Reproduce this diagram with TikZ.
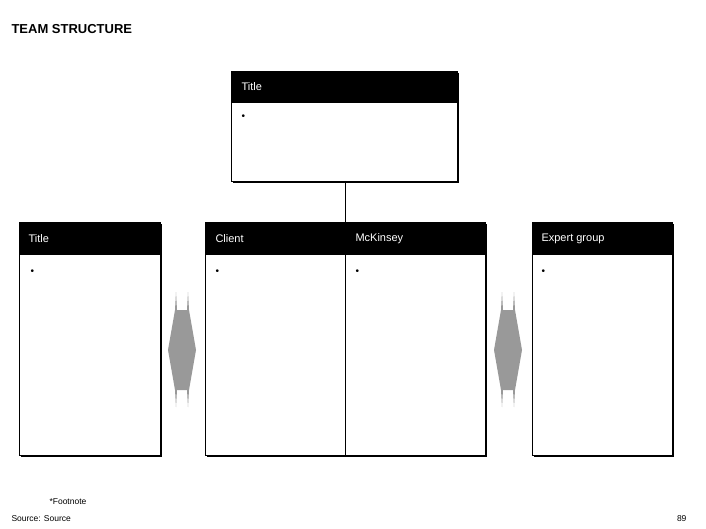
\documentclass[tikz,border=0pt]{standalone}
\usepackage{fontspec}
\setmainfont{Liberation Sans}
\begin{document}
\begin{tikzpicture}[x=1pt,y=-1pt,
  boxbody/.style={draw=black,fill=white,line width=0.6pt},
  hdr/.style={fill=black},
  hdrtext/.style={text=white,anchor=west,font=\fontsize{11}{13}\selectfont},
  bul/.style={anchor=west,font=\fontsize{10}{12}\selectfont},
  arr/.style={fill=gray!85,draw=none}]
\useasboundingbox[fill=white] (0,0) rectangle (706,529);
\node[anchor=west,font=\bfseries\fontsize{13}{15}\selectfont] (title) at (8,29) {TEAM STRUCTURE};
% shadows
\foreach \a/\b/\c/\d in {231/71/457/181, 19/222/160/455, 205/222/485/455, 532/222/672/455}
  \fill[black] (\a+2,\b+2) rectangle (\c+2,\d+2);
% top box
\draw[boxbody] (231,71) rectangle (457,181);
\fill[hdr] (231,71) rectangle (457,103);
\node[hdrtext] (t1) at (238,87) {Title};
\node[bul] (b1) at (238,117) {•};
% left
\draw[boxbody] (19,222) rectangle (160,455);
\fill[hdr] (19,222) rectangle (160,255);
\node[hdrtext] (t2) at (25,239) {Title};
\node[bul] (b2) at (27,272) {•};
% client/mckinsey
\draw[boxbody] (205,222) rectangle (485,455);
\fill[hdr] (205,222) rectangle (485,255);
\draw[line width=0.6pt] (345,255) -- (345,455);
\node[hdrtext] (t3) at (212,239) {Client};
\node[bul] (b3) at (212,272) {•};
\node[hdrtext] (t4) at (352,239) {McKinsey};
\node[bul] (b4) at (352,272) {•};
% expert
\draw[boxbody] (532,222) rectangle (672,455);
\fill[hdr] (532,222) rectangle (672,255);
\node[hdrtext] (t5) at (538,239) {Expert group};
\node[bul] (b5) at (538,272) {•};
% connector
\coordinate (c1) at (345,181);
\coordinate (c2) at (345,222);
\draw[line width=1pt] (c1) -- (c2);
% double arrows
\foreach \cx in {182,508}{
  \fill[gray!80] (\cx-14,350) -- (\cx-7,310) -- (\cx-6,292) -- (\cx-5,310) -- (\cx+5,310) -- (\cx+6,292) -- (\cx+7,310) -- (\cx+14,350)
   -- (\cx+7,390) -- (\cx+6,407) -- (\cx+5,390) -- (\cx-5,390) -- (\cx-6,407) -- (\cx-7,390) -- cycle;
}
\node[anchor=west,font=\fontsize{8.5}{10}\selectfont] (fn) at (46,502) {*Footnote};
\node[anchor=west,font=\fontsize{8.5}{10}\selectfont] (src) at (8,519) {Source: Source};
\node[anchor=east,font=\fontsize{8.5}{10}\selectfont] (pg) at (690,519) {89};
\end{tikzpicture}
\end{document}
